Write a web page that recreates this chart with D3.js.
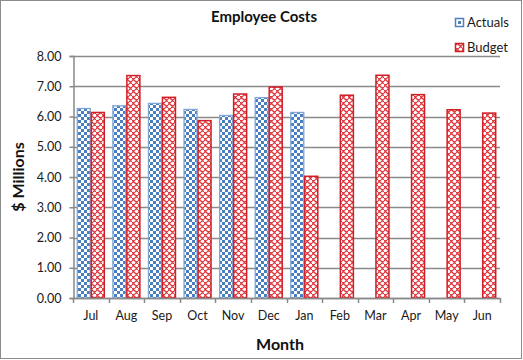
<!DOCTYPE html>
<html><head><meta charset="utf-8">
<script src="https://cdn.jsdelivr.net/npm/d3@7"></script>
<style>body{margin:0;background:#fff}svg{display:block}</style>
</head><body>
<script>
const months = ["Jul","Aug","Sep","Oct","Nov","Dec","Jan","Feb","Mar","Apr","May","Jun"];
const actuals = [6.28,6.37,6.45,6.25,6.05,6.64,6.15,null,null,null,null,null];
const budget = [6.15,7.37,6.65,5.88,6.76,6.99,4.04,6.72,7.38,6.74,6.24,6.13];
const yTicks = [0,1,2,3,4,5,6,7,8];
const seriesNames = ["Actuals","Budget"];

const W=523,H=360;
const svg=d3.select("body").append("svg").attr("width",W).attr("height",H);
const defs=svg.append("defs");
const pc=defs.append("pattern").attr("id","checker").attr("patternUnits","userSpaceOnUse").attr("width",6).attr("height",6);
pc.append("rect").attr("width",6).attr("height",6).attr("fill","#fff");
pc.append("rect").attr("width",3).attr("height",3).attr("fill","#4A7EC2");
pc.append("rect").attr("x",3).attr("y",3).attr("width",3).attr("height",3).attr("fill","#4A7EC2");
const pw=defs.append("pattern").attr("id","weave").attr("patternUnits","userSpaceOnUse").attr("width",6).attr("height",6);
pw.append("rect").attr("width",6).attr("height",6).attr("fill","#fff");
pw.append("path").attr("d","M0,3 L3,0 M3,6 L6,3 M0,0 L3,3 M3,3 L6,6").attr("stroke","#E03A40").attr("stroke-width",1.4).attr("fill","none");

svg.append("rect").attr("x",0.5).attr("y",0.5).attr("width",W-2).attr("height",H-2).attr("fill","#fff").attr("stroke","#8c8c8c");

const m={l:73,r:500,t:56,b:298};
const x=d3.scaleBand().domain(months).range([m.l,m.r]);
const y=d3.scaleLinear().domain([0,8]).range([m.b,m.t]);

svg.append("g").selectAll("line").data(yTicks).join("line")
  .attr("x1",m.l).attr("x2",m.r).attr("y1",d=>Math.round(y(d))+0.5).attr("y2",d=>Math.round(y(d))+0.5)
  .attr("stroke","#8a8a8a").attr("stroke-width",1.5);

const bw=14;
const g=svg.append("g");
g.selectAll(".a").data(months.map((mo,i)=>({mo,v:actuals[i]})).filter(d=>d.v!=null)).join("rect")
  .attr("x",d=>x(d.mo)+x.bandwidth()/2-bw+0.5).attr("width",bw-1)
  .attr("y",d=>y(d.v)+0.5).attr("height",d=>y(0)-y(d.v)-0.5)
  .attr("fill","url(#checker)").attr("stroke","#7EA6D6").attr("stroke-width",1.3);
g.selectAll(".b").data(months.map((mo,i)=>({mo,v:budget[i]}))).join("rect")
  .attr("x",d=>x(d.mo)+x.bandwidth()/2+0.5).attr("width",bw-1)
  .attr("y",d=>y(d.v)+0.5).attr("height",d=>y(0)-y(d.v)-0.5)
  .attr("fill","url(#weave)").attr("stroke","#D01F26").attr("stroke-width",1.5);

const font="Lato, 'Open Sans', sans-serif";
const ya=svg.append("g").attr("transform",`translate(${m.l+0.5},0)`)
  .call(d3.axisLeft(y).tickValues(yTicks).tickFormat(d3.format(".2f")).tickSize(4).tickPadding(8));
const xa=svg.append("g").attr("transform",`translate(0,${m.b+0.5})`)
  .call(d3.axisBottom(x).tickSize(0).tickPadding(13));
[ya,xa].forEach(a=>{a.select(".domain").attr("stroke","#898989").attr("stroke-width",1.5);a.selectAll("line").attr("stroke","#898989").attr("stroke-width",1.5);
  a.selectAll("text").attr("font-family",font).attr("font-size",12.5).attr("fill","#1a1a1a");});
xa.select(".domain").attr("d",`M${m.l},0H${m.r}`);
svg.append("g").selectAll("line").data(d3.range(13)).join("line")
  .attr("x1",i=>Math.round(m.l+i*x.step())+0.5).attr("x2",i=>Math.round(m.l+i*x.step())+0.5)
  .attr("y1",m.b).attr("y2",m.b+5).attr("stroke","#898989").attr("stroke-width",1.5);

svg.append("text").attr("x",264).attr("y",22).attr("text-anchor","middle").attr("font-family",font)
  .attr("font-weight","bold").attr("font-size",15).attr("fill","#111").text("Employee Costs");
svg.append("text").attr("x",280).attr("y",350).attr("text-anchor","middle").attr("font-family",font)
  .attr("font-weight","bold").attr("font-size",16).attr("fill","#111").text("Month");
svg.append("text").attr("transform","translate(24,177) rotate(-90)").attr("text-anchor","middle").attr("font-family",font)
  .attr("font-weight","bold").attr("font-size",16).attr("fill","#111").text("$ Millions");

const lg=svg.append("g");
const fills=["url(#checker)","url(#weave)"], strokes=["#4F81BD","#D01F26"];
seriesNames.forEach((n,i)=>{
  const yy=18+i*25;
  lg.append("rect").attr("x",455.5).attr("y",yy+0.5).attr("width",8).attr("height",8)
    .attr("fill",i==0?"#fff":fills[i]).attr("stroke",strokes[i]).attr("stroke-width",1.5);
  if(i==0) lg.append("rect").attr("x",458).attr("y",yy+3).attr("width",3).attr("height",3).attr("fill","#4F81BD");
  lg.append("text").attr("x",467).attr("y",yy+9).attr("font-family",font).attr("font-size",13).attr("fill","#1a1a1a").text(n);
});
</script>
</body></html>
